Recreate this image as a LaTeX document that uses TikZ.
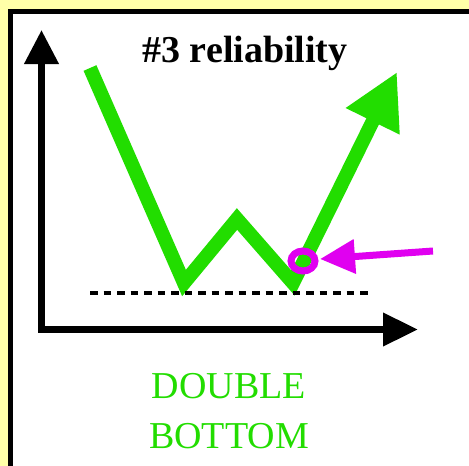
\documentclass[tikz,border=0pt]{standalone}
\usepackage{fontspec}
\setmainfont{Liberation Serif}
\usetikzlibrary{arrows.meta}
\definecolor{panelbg}{HTML}{FFFFA8}
\definecolor{trendgreen}{HTML}{22DD00}
\definecolor{markpink}{HTML}{E000F0}

\begin{document}
\begin{tikzpicture}[x=1pt,y=-1pt,
    axisline/.style={line width=7pt,line join=miter,
      {Triangle[length=34pt,width=33pt]}-{Triangle[length=35pt,width=32pt]}},
    priceline/.style={trendgreen,line width=14pt,line join=miter,
      -{Triangle[length=55pt,width=56pt]}},
    supportline/.style={line width=4.5pt,dash pattern=on 7.5pt off 6pt},
    pointer/.style={markpink,line width=7pt,-{Triangle[length=35pt,width=33pt]}}]
  \useasboundingbox (0,0) rectangle (469,466);
  \fill[panelbg] (0,0) rectangle (469,466);
  % white panel, cut off at the right and bottom
  \fill[white] (10.8,11.8) rectangle (469,466);
  \draw[line width=5pt,line join=miter] (469,11.8) -- (10.8,11.8) -- (10.8,466);

  \node[font=\fontsize{38}{40}\selectfont\bfseries,anchor=base] (title) at (245,62)
    {\#3 reliability};

  % axes
  \coordinate (ytop) at (41.5,30);
  \coordinate (origin) at (41.5,329.5);
  \coordinate (xend) at (418,329.5);
  \draw[axisline] (ytop) -- (origin) -- (xend);

  % price path
  \coordinate (start) at (90,68);
  \coordinate (low1) at (184,283);
  \coordinate (peak) at (237,219);
  \coordinate (low2) at (293,283);
  \coordinate (target) at (397,72);
  \draw[priceline] (start) -- (low1) -- (peak) -- (low2) -- (target);

  % support level
  \coordinate (supL) at (90,293);
  \coordinate (supR) at (373,293);
  \draw[supportline] (supL) -- (supR);

  % entry point
  \coordinate (entry) at (303,261);
  \draw[markpink,line width=7pt] (entry) ellipse [x radius=12pt,y radius=10pt];
  \coordinate (pfrom) at (433,251);
  \coordinate (pto) at (320,259);
  \draw[pointer] (pfrom) -- (pto);

  \node[trendgreen,font=\fontsize{38}{50}\selectfont,align=center,anchor=base]
    (name) at (229,448) {DOUBLE\\BOTTOM};
\end{tikzpicture}
\end{document}
